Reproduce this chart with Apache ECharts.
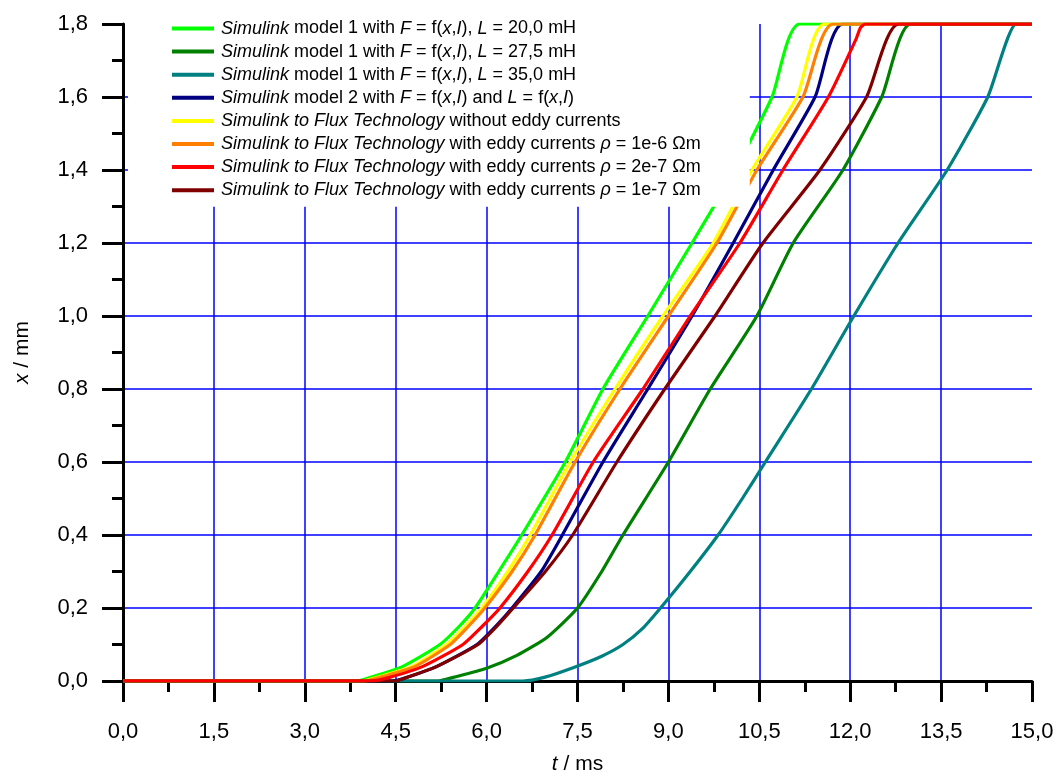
<!DOCTYPE html>
<html>
<head>
<meta charset="utf-8">
<script src="https://cdn.jsdelivr.net/npm/echarts@6/dist/echarts.min.js"></script>
<style>
html,body{margin:0;padding:0;background:#fff;}
#chart{width:1062px;height:780px;}
</style>
</head>
<body>
<div id="chart"></div>
<script>
// ---- data: [t (ms), x (mm)] ----
const seriesNames = [
  'Simulink model 1 with F = f(x,I), L = 20,0 mH',
  'Simulink model 1 with F = f(x,I), L = 27,5 mH',
  'Simulink model 1 with F = f(x,I), L = 35,0 mH',
  'Simulink model 2 with F = f(x,I) and L = f(x,I)',
  'Simulink to Flux Technology without eddy currents',
  'Simulink to Flux Technology with eddy currents ρ = 1e-6 Ωm',
  'Simulink to Flux Technology with eddy currents ρ = 2e-7 Ωm',
  'Simulink to Flux Technology with eddy currents ρ = 1e-7 Ωm'
];
const legendLabels = [
  '{i|Simulink} model 1 with {i|F} = f({i|x},{i|I}), {i|L} = 20,0 mH',
  '{i|Simulink} model 1 with {i|F} = f({i|x},{i|I}), {i|L} = 27,5 mH',
  '{i|Simulink} model 1 with {i|F} = f({i|x},{i|I}), {i|L} = 35,0 mH',
  '{i|Simulink} model 2 with {i|F} = f({i|x},{i|I}) and {i|L} = f({i|x},{i|I})',
  '{i|Simulink to Flux Technology} without eddy currents',
  '{i|Simulink to Flux Technology} with eddy currents {i|ρ} = 1e-6 Ωm',
  '{i|Simulink to Flux Technology} with eddy currents {i|ρ} = 2e-7 Ωm',
  '{i|Simulink to Flux Technology} with eddy currents {i|ρ} = 1e-7 Ωm'
];
const colors = ['#00FF00', '#008000', '#008080', '#000080', '#FFFF00', '#FF8000', '#FF0000', '#800000'];

const model1L20 = [[0,0],[3.85,0],[4.08,0.01],[4.62,0.04],[5.23,0.1],[5.55,0.15],[5.81,0.2],[6.2,0.3],[6.58,0.4],[7.3,0.6],[7.92,0.8],[8.66,1.0],[9.39,1.2],[10.1,1.4],[10.71,1.6],[11.17,1.8],[15,1.8]];
const model1L275 = [[0,0],[5.2,0],[5.45,0.01],[6.0,0.035],[6.5,0.07],[7.0,0.12],[7.5,0.2],[7.9,0.3],[8.25,0.4],[9.0,0.6],[9.69,0.8],[10.46,1.0],[11.06,1.2],[11.88,1.4],[12.52,1.6],[13.0,1.8],[15,1.8]];
const model1L35 = [[0,0],[6.6,0],[6.95,0.01],[7.45,0.038],[7.9,0.068],[8.25,0.1],[8.58,0.145],[8.87,0.2],[9.36,0.3],[9.82,0.4],[10.22,0.5],[10.6,0.6],[11.36,0.8],[12.06,1.0],[12.79,1.2],[13.6,1.4],[14.27,1.6],[14.74,1.8],[15,1.8]];
const model2 = [[0,0],[4.45,0],[4.69,0.01],[5.18,0.04],[5.84,0.1],[6.15,0.15],[6.42,0.2],[6.9,0.3],[7.25,0.4],[7.92,0.6],[8.66,0.8],[9.39,1.0],[10.07,1.2],[10.73,1.4],[11.42,1.6],[11.88,1.8],[15,1.8]];
const fluxNoEddy = [[0,0],[3.95,0],[4.19,0.01],[4.77,0.04],[5.34,0.1],[5.65,0.15],[5.92,0.2],[6.35,0.3],[6.72,0.4],[7.38,0.6],[8.12,0.8],[8.91,1.0],[9.74,1.2],[10.38,1.4],[11.12,1.6],[11.58,1.8],[15,1.8]];
const fluxRho1e6 = [[0,0],[4.0,0],[4.24,0.01],[4.82,0.04],[5.4,0.1],[5.7,0.15],[5.97,0.2],[6.42,0.3],[6.8,0.4],[7.46,0.6],[8.2,0.8],[9.0,1.0],[9.8,1.2],[10.46,1.4],[11.22,1.6],[11.72,1.8],[15,1.8]];
const fluxRho2e7 = [[0,0],[4.1,0],[4.4,0.01],[4.95,0.04],[5.61,0.1],[5.93,0.15],[6.22,0.2],[6.68,0.3],[7.08,0.4],[7.76,0.6],[8.58,0.8],[9.36,1.0],[10.18,1.2],[10.89,1.4],[11.64,1.6],[12.1,1.76],[12.17,1.79],[12.25,1.8],[15,1.8]];
const fluxRho1e7 = [[0,0],[4.5,0],[4.69,0.01],[5.18,0.04],[5.86,0.1],[6.17,0.15],[6.44,0.2],[6.97,0.3],[7.42,0.4],[8.15,0.6],[8.94,0.8],[9.77,1.0],[10.56,1.2],[11.5,1.4],[12.27,1.6],[12.8,1.8],[15,1.8]];
const seriesData = [model1L20, model1L275, model1L35, model2, fluxNoEddy, fluxRho1e6, fluxRho2e7, fluxRho1e7];

const xTickInterval = 1.5, xMax = 15;
const yTickInterval = 0.2, yMax = 1.8;

const FONT = "'Liberation Sans', Arial, sans-serif";
const fmt = v => v.toFixed(1).replace('.', ',');

const chart = echarts.init(document.getElementById('chart'), null, {renderer: 'canvas'});
const series = seriesNames.map((n, k) => ({
  name: n,
  type: 'line',
  data: seriesData[k],
  symbol: 'none',
  showSymbol: false,
  smooth: 0.2,
  z: n.indexOf('2e-7') >= 0 ? 3 : 2,
  lineStyle: {color: colors[k], width: 3.2},
  itemStyle: {color: colors[k]},
  emphasis: {disabled: true}
}));

const axisCommon = {
  axisLine: {show: true, onZero: false, lineStyle: {color: '#000', width: 3}},
  axisTick: {show: true, inside: false, length: 21, lineStyle: {color: '#000', width: 3}},
  minorTick: {show: true, splitNumber: 2, length: 11, lineStyle: {color: '#000', width: 3}},
  splitLine: {show: true, showMinLine: false, showMaxLine: false, lineStyle: {color: '#0000FF', width: 1.5}},
  axisLabel: {color: '#000', fontSize: 22, fontFamily: FONT, formatter: fmt},
  nameTextStyle: {color: '#000', fontSize: 21, fontFamily: FONT, rich: {i: {fontStyle: 'italic', fontSize: 21, fontFamily: FONT, color: '#000'}}}
};

chart.setOption({
  animation: false,
  backgroundColor: '#fff',
  grid: {left: 123, right: 30, top: 24, bottom: 97, containLabel: false},
  xAxis: Object.assign({}, axisCommon, {
    type: 'value', min: 0, max: xMax, interval: xTickInterval,
    name: '{i|t} / ms', nameLocation: 'middle', nameGap: 73,
    axisLabel: Object.assign({}, axisCommon.axisLabel, {margin: 40})
  }),
  yAxis: Object.assign({}, axisCommon, {
    type: 'value', min: 0, max: yMax, interval: yTickInterval,
    name: '{i|x} / mm', nameLocation: 'middle', nameGap: 90, nameRotate: 90,
    axisLabel: Object.assign({}, axisCommon.axisLabel, {margin: 35})
  }),
  legend: {
    show: true,
    orient: 'vertical',
    left: 128, top: 7,
    padding: [12, 49, 7, 44],
    backgroundColor: '#fff',
    icon: 'rect',
    itemWidth: 42, itemHeight: 4, itemGap: 4.1,
    selectedMode: false,
    data: seriesNames,
    formatter: name => legendLabels[seriesNames.indexOf(name)],
    textStyle: {color: '#000', fontSize: 18, fontFamily: FONT, lineHeight: 19, padding: [0, 0, 0, 2],
      rich: {i: {fontStyle: 'italic', fontSize: 18, fontFamily: FONT, color: '#000', lineHeight: 19}}}
  },
  series: series
});
</script>
</body>
</html>
